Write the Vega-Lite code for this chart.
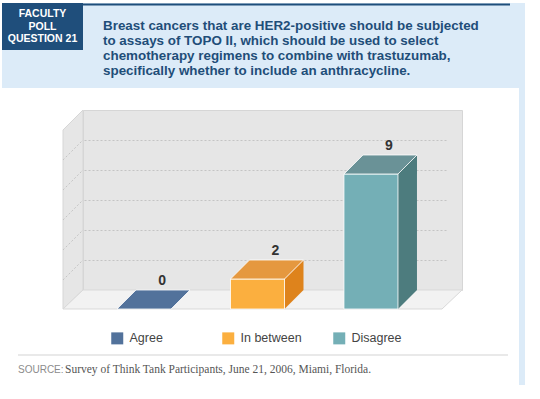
{
  "$schema": "https://vega.github.io/schema/vega-lite/v6.json",
  "background": "white",
  "padding": {"left": 2, "top": 3, "right": 0, "bottom": 0},
  "config": {"view": {"stroke": null}, "font": "Liberation Sans"},
  "bounds": "flush",
  "align": "each",
  "columns": 3,
  "spacing": {"row": 0, "column": 0},
  "concat": [
    {
      "width": 81,
      "height": 47,
      "view": {"fill": "#1F4E7B", "stroke": null},
      "data": {"values": [
        {"line": 1, "label": "FACULTY"},
        {"line": 2, "label": "POLL"},
        {"line": 3, "label": "QUESTION 21"}
      ]},
      "mark": {"type": "text", "fontWeight": "bold", "fontSize": 10.5, "color": "white", "font": "Liberation Sans", "baseline": "middle", "align": "center"},
      "encoding": {
        "y": {"field": "line", "type": "ordinal", "scale": {"type": "point", "range": [11, 36], "padding": 0}, "axis": null},
        "text": {"field": "label"}
      }
    },
    {
      "width": 436,
      "height": 47,
      "view": {"fill": "#DCEBF8", "stroke": null},
      "data": {"values": [{}]},
      "mark": {"type": "point", "shape": "M-0.9478,-0.1L0.9087,-0.1L0.9087,-0.0913L-0.9478,-0.0913Z", "size": 211600, "filled": true, "opacity": 1, "fill": "#1F4E7B", "strokeWidth": 0}
    },
    {
      "width": 6,
      "height": 47,
      "view": {"fill": "#DCEBF8", "stroke": null},
      "data": {"values": []},
      "mark": "rect"
    },
    {
      "width": 81,
      "height": 38,
      "view": {"fill": "#DCEBF8", "stroke": null},
      "data": {"values": []},
      "mark": "rect"
    },
    {
      "width": 436,
      "height": 38,
      "view": {"fill": "#DCEBF8", "stroke": null},
      "data": {"values": [
        {"line": 1, "label": "Breast cancers that are HER2-positive should be subjected"},
        {"line": 2, "label": "to assays of TOPO II, which should be used to select"},
        {"line": 3, "label": "chemotherapy regimens to combine with trastuzumab,"},
        {"line": 4, "label": "specifically whether to include an anthracycline."}
      ]},
      "mark": {"type": "text", "fontWeight": "bold", "fontSize": 13.4, "color": "#1F4E79", "font": "Liberation Sans", "baseline": "middle", "align": "left"},
      "encoding": {
        "x": {"datum": 0, "type": "quantitative", "scale": {"domain": [0, 1], "range": [20, 436]}, "axis": null},
        "y": {"field": "line", "type": "ordinal", "scale": {"type": "point", "range": [-24, 21], "padding": 0}, "axis": null},
        "text": {"field": "label"}
      }
    },
    {
      "width": 6,
      "height": 38,
      "view": {"fill": "#DCEBF8", "stroke": null},
      "data": {"values": []},
      "mark": "rect"
    },
    {"width": 81, "height": 22, "data": {"values": []}, "mark": "rect"},
    {"width": 1, "height": 22, "data": {"values": []}, "mark": "rect"},
    {
      "width": 6,
      "height": 22,
      "view": {"fill": "#DCEBF8", "stroke": null},
      "data": {"values": []},
      "mark": "rect"
    },
    {"width": 81, "height": 180, "data": {"values": []}, "mark": "rect"},
    {
      "width": 379,
      "height": 180,
      "view": {"fill": "#E6E6E6", "stroke": "#D6D6D6"},
      "data": {"values": [
        {"response": "Agree", "count": 0},
        {"response": "In between", "count": 2},
        {"response": "Disagree", "count": 9}
      ]},
      "resolve": {"scale": {"color": "independent"}},
      "layer": [
        {
          "data": {"values": [{}]},
          "mark": {"type": "point", "shape": "M-0.9976,0.0952L-0.9024,0L-0.9024,0.8571L-0.9976,0.9476Z", "size": 176400, "filled": true, "opacity": 1, "fill": "#E6E6E6", "stroke": "#D6D6D6", "strokeWidth": 1},
          "encoding": {"y": {"datum": 12, "type": "quantitative", "scale": {"domain": [0, 12]}, "axis": {"grid": true, "gridDash": [2, 2], "gridColor": "#C4C4C4", "labels": false, "ticks": false, "domain": false, "title": null, "values": [2, 4, 6, 8, 10]}}}
        },
        {
          "data": {"values": [{}]},
          "mark": {"type": "point", "shape": "M-0.9024,0L0.9024,0L0.8071,0.0905L-0.9976,0.0905Z", "size": 176400, "filled": true, "opacity": 1, "fill": "#F2F2F2", "stroke": "#D9D9D9", "strokeWidth": 1},
          "encoding": {"y": {"datum": 0, "type": "quantitative", "axis": {"grid": true, "gridDash": [2, 2], "gridColor": "#C4C4C4", "labels": false, "ticks": false, "domain": false, "title": null, "values": [2, 4, 6, 8, 10]}}}
        },
        {
          "data": {"values": [{}]},
          "mark": {"type": "point", "shape": "M-0.9976,0.2381L-0.9024,0.1429M-0.9976,0.381L-0.9024,0.2857M-0.9976,0.5238L-0.9024,0.4286M-0.9976,0.6667L-0.9024,0.5714M-0.9976,0.8095L-0.9024,0.7143", "size": 176400, "filled": false, "opacity": 1, "stroke": "#C4C4C4", "strokeWidth": 1, "strokeDash": [2, 2]},
          "encoding": {"y": {"datum": 12, "type": "quantitative", "axis": {"grid": true, "gridDash": [2, 2], "gridColor": "#C4C4C4", "labels": false, "ticks": false, "domain": false, "title": null, "values": [2, 4, 6, 8, 10]}}}
        },
        {
          "data": {"values": [{}]},
          "mark": {"type": "point", "shape": "M-0.9788,0L0.9058,0", "size": 270400, "filled": false, "opacity": 1, "stroke": "#E2E2E2", "strokeWidth": 1.5},
          "encoding": {"y": {"datum": -4.3333, "type": "quantitative", "axis": {"grid": true, "gridDash": [2, 2], "gridColor": "#C4C4C4", "labels": false, "ticks": false, "domain": false, "title": null, "values": [2, 4, 6, 8, 10]}}}
        },
        {
          "transform": [{"filter": "datum.count > 0"}],
          "mark": {"type": "bar", "width": 19, "xOffset": 36.5, "yOffset": 19},
          "encoding": {
            "x": {"field": "response", "type": "nominal", "sort": ["Agree", "In between", "Disagree"], "scale": {"range": [-15, 364], "paddingInner": 0.524, "paddingOuter": 0.432}, "axis": null},
            "y": {"field": "count", "type": "quantitative", "axis": {"grid": true, "gridDash": [2, 2], "gridColor": "#C4C4C4", "labels": false, "ticks": false, "domain": false, "title": null, "values": [2, 4, 6, 8, 10]}},
            "y2": {"datum": 0},
            "color": {"field": "response", "type": "nominal", "scale": {"domain": ["Agree", "In between", "Disagree"], "range": ["#52729B", "#DE831C", "#4D7C7E"]}, "legend": null}
          }
        },
        {
          "transform": [{"filter": "datum.count > 0"}],
          "mark": {"type": "point", "shape": "M0.587,0L1,-0.413L1,0Z", "size": 8464, "filled": true, "opacity": 1, "yOffset": 19},
          "encoding": {
            "x": {"field": "response", "type": "nominal", "sort": ["Agree", "In between", "Disagree"], "axis": null},
            "y": {"field": "count", "type": "quantitative", "axis": {"grid": true, "gridDash": [2, 2], "gridColor": "#C4C4C4", "labels": false, "ticks": false, "domain": false, "title": null, "values": [2, 4, 6, 8, 10]}},
            "color": {"field": "response", "type": "nominal", "scale": {"domain": ["Agree", "In between", "Disagree"], "range": ["#52729B", "#DE831C", "#4D7C7E"]}, "legend": null}
          }
        },
        {
          "transform": [{"filter": "datum.count > 0"}],
          "mark": {"type": "point", "shape": "M0.587,-0.413L0.587,0L1,-0.413Z", "size": 8464, "filled": true, "opacity": 1, "yOffset": 19},
          "encoding": {
            "x": {"field": "response", "type": "nominal", "sort": ["Agree", "In between", "Disagree"], "axis": null},
            "y": {"datum": 0, "type": "quantitative", "axis": {"grid": true, "gridDash": [2, 2], "gridColor": "#C4C4C4", "labels": false, "ticks": false, "domain": false, "title": null, "values": [2, 4, 6, 8, 10]}},
            "color": {"field": "response", "type": "nominal", "scale": {"domain": ["Agree", "In between", "Disagree"], "range": ["#52729B", "#DE831C", "#4D7C7E"]}, "legend": null}
          }
        },
        {
          "transform": [{"filter": "datum.count > 0"}],
          "mark": {"type": "bar", "yOffset": 19, "y2Offset": 19, "stroke": "white", "strokeWidth": 0.8},
          "encoding": {
            "x": {"field": "response", "type": "nominal", "sort": ["Agree", "In between", "Disagree"], "axis": null},
            "y": {"field": "count", "type": "quantitative", "axis": {"grid": true, "gridDash": [2, 2], "gridColor": "#C4C4C4", "labels": false, "ticks": false, "domain": false, "title": null, "values": [2, 4, 6, 8, 10]}},
            "y2": {"datum": 0},
            "color": {
              "field": "response", "type": "nominal",
              "scale": {"domain": ["Agree", "In between", "Disagree"], "range": ["#52729B", "#FBAF3F", "#74AFB6"]},
              "legend": {"title": null, "orient": "none", "legendX": 28, "legendY": 222, "direction": "horizontal", "columns": 3, "gridAlign": "all", "columnPadding": 31, "symbolType": "square", "symbolSize": 144, "symbolStrokeWidth": 0, "labelFontSize": 12.5, "labelFont": "Liberation Sans", "labelColor": "#444444", "labelOffset": 6, "padding": 0}
            }
          }
        },
        {
          "mark": {"type": "point", "shape": "M-0.587,0L-0.174,-0.413L1,-0.413L0.587,0Z", "size": 8464, "filled": true, "opacity": 1, "yOffset": 19, "stroke": "white", "strokeWidth": 0.8},
          "encoding": {
            "x": {"field": "response", "type": "nominal", "sort": ["Agree", "In between", "Disagree"], "axis": null},
            "y": {"field": "count", "type": "quantitative", "axis": {"grid": true, "gridDash": [2, 2], "gridColor": "#C4C4C4", "labels": false, "ticks": false, "domain": false, "title": null, "values": [2, 4, 6, 8, 10]}},
            "color": {"field": "response", "type": "nominal", "scale": {"domain": ["Agree", "In between", "Disagree"], "range": ["#52729B", "#E5983F", "#6A9297"]}, "legend": null}
          }
        },
        {
          "mark": {"type": "text", "dx": 18, "dy": -9, "fontWeight": "bold", "fontSize": 14, "color": "#333333", "font": "Liberation Sans", "baseline": "middle"},
          "encoding": {
            "x": {"field": "response", "type": "nominal", "sort": ["Agree", "In between", "Disagree"], "axis": null},
            "y": {"field": "count", "type": "quantitative", "axis": {"grid": true, "gridDash": [2, 2], "gridColor": "#C4C4C4", "labels": false, "ticks": false, "domain": false, "title": null, "values": [2, 4, 6, 8, 10]}},
            "text": {"field": "count", "type": "quantitative"}
          }
        }
      ]
    },
    {
      "width": 6,
      "height": 180,
      "view": {"fill": "#DCEBF8", "stroke": null},
      "data": {"values": []},
      "mark": "rect"
    },
    {"width": 81, "height": 65, "data": {"values": []}, "mark": "rect"},
    {"width": 1, "height": 65, "data": {"values": []}, "mark": "rect"},
    {
      "width": 6,
      "height": 65,
      "view": {"fill": "#DCEBF8", "stroke": null},
      "data": {"values": []},
      "mark": "rect"
    },
    {
      "width": 81,
      "height": 1,
      "title": {"text": "SOURCE:", "orient": "bottom", "anchor": "start", "dx": 16, "offset": 9, "fontSize": 10, "font": "Liberation Sans", "fontWeight": "normal", "color": "#8C8C8C", "baseline": "top"},
      "data": {"values": []},
      "mark": "rect"
    },
    {
      "width": 1,
      "height": 1,
      "title": {"text": "Survey of Think Tank Participants, June 21, 2006, Miami, Florida.", "orient": "bottom", "anchor": "start", "dx": -18, "offset": 8, "fontSize": 11.5, "font": "Liberation Serif", "fontWeight": "normal", "color": "#555555", "baseline": "top"},
      "data": {"values": []},
      "mark": "rect"
    },
    {
      "width": 6,
      "height": 30,
      "view": {"fill": "#DCEBF8", "stroke": null},
      "data": {"values": []},
      "mark": "rect"
    }
  ]
}
